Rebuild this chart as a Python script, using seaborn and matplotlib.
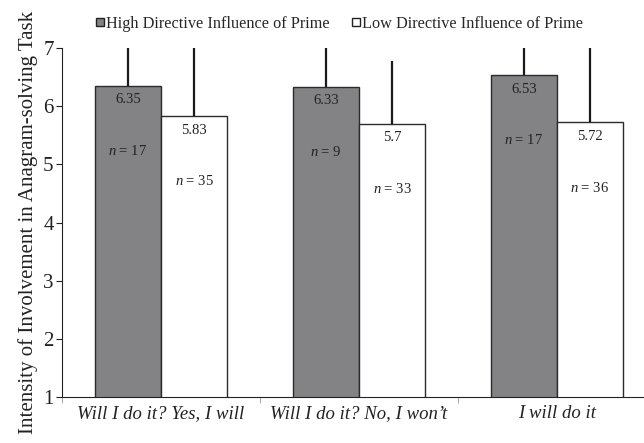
import numpy as np
import pandas as pd
import matplotlib
matplotlib.use("Agg")
import matplotlib.pyplot as plt
import seaborn as sns

categories = ["Will I do it? Yes, I will", "Will I do it? No, I won\u2019t", "I will do it"]
groups = ["High Directive Influence of Prime", "Low Directive Influence of Prime"]
high_means = [6.35, 6.33, 6.53]
low_means = [5.83, 5.7, 5.72]
high_err = [1.0, 0.9, 0.8]
low_err = [1.3, 1.08, 1.4]
high_n = [17, 9, 17]
low_n = [35, 33, 36]
high_labels = ["6.35", "6.33", "6.53"]
low_labels = ["5.83", "5.7", "5.72"]

df = pd.DataFrame({
    "cat": categories * 2,
    "group": [groups[0]] * 3 + [groups[1]] * 3,
    "mean": high_means + low_means,
})

sns.set_style("ticks")
plt.rcParams["font.family"] = ["Liberation Serif", "DejaVu Serif"]
plt.rcParams["mathtext.fontset"] = "custom"
plt.rcParams["mathtext.it"] = "Liberation Serif:italic"
plt.rcParams["mathtext.rm"] = "Liberation Serif"

fig = plt.figure(figsize=(6.44, 4.43), dpi=100)
ax = fig.add_axes([62 / 644, 46 / 443, 594 / 644, 349 / 443])

palette = {groups[0]: "#838385", groups[1]: "#ffffff"}
sns.barplot(data=df, x="cat", y="mean", hue="group", palette=palette,
            width=0.667, edgecolor="#2b2b2b", linewidth=1.0, ax=ax,
            legend=False, saturation=1)

# error bars (upper only) and labels, placed on the drawn bars
bars = ax.patches
hi_bars = sorted(bars[:3], key=lambda p: p.get_x())
lo_bars = sorted(bars[3:6], key=lambda p: p.get_x())
for blist, means, errs, labs, ns in [(hi_bars, high_means, high_err, high_labels, high_n),
                                      (lo_bars, low_means, low_err, low_labels, low_n)]:
    for p, m, e, lab, n in zip(blist, means, errs, labs, ns):
        cx = p.get_x() + p.get_width() / 2
        ax.errorbar(cx, m, yerr=[[0], [e]], color="#1a1a1a", lw=1.6, capsize=0, zorder=1)
        ax.text(cx, m - 0.24, lab, ha="center", va="center", fontsize=10.5, color="#222222")
        ax.text(cx, m - 1.12, "$n$ = %d" % n, ha="center", va="center", fontsize=10.5, color="#222222")

ax.set_ylim(1, 7)
ax.set_xlim(-0.5, 2.5)
ax.set_yticks(range(1, 8))
ax.tick_params(axis="y", labelsize=15, length=4, width=0.8, pad=2, colors="#222222")
ax.set_xticks([0, 1, 2])
ax.set_xticklabels(categories, fontstyle="italic", fontsize=13.5, color="#222222")
ax.set_xticks([-0.5, 0.5, 1.5, 2.5], minor=True)
ax.tick_params(axis="x", which="major", length=0, pad=6)
ax.tick_params(axis="x", which="minor", length=4, width=0.6, color="#999999")
ax.set_xlabel("")
ax.set_ylabel("Intensity of Involvement in Anagram-solving Task", fontsize=15,
              color="#222222", labelpad=4)
for s in ["top", "right"]:
    ax.spines[s].set_visible(False)
ax.spines["left"].set_color("#222222")
ax.spines["bottom"].set_color("#222222")
ax.spines["left"].set_linewidth(0.8)
ax.spines["bottom"].set_linewidth(0.8)

handles = [plt.Line2D([], [], marker="s", linestyle="", markersize=6,
                      markerfacecolor=palette[g], markeredgecolor="#222222",
                      markeredgewidth=1.0) for g in groups]
fig.legend(handles, groups, loc="center", bbox_to_anchor=(0.527, 0.946), ncol=2,
           frameon=False, fontsize=11.7, handlelength=0.5, handletextpad=0.1,
           columnspacing=1.4)

fig.savefig("out.png", dpi=100)
